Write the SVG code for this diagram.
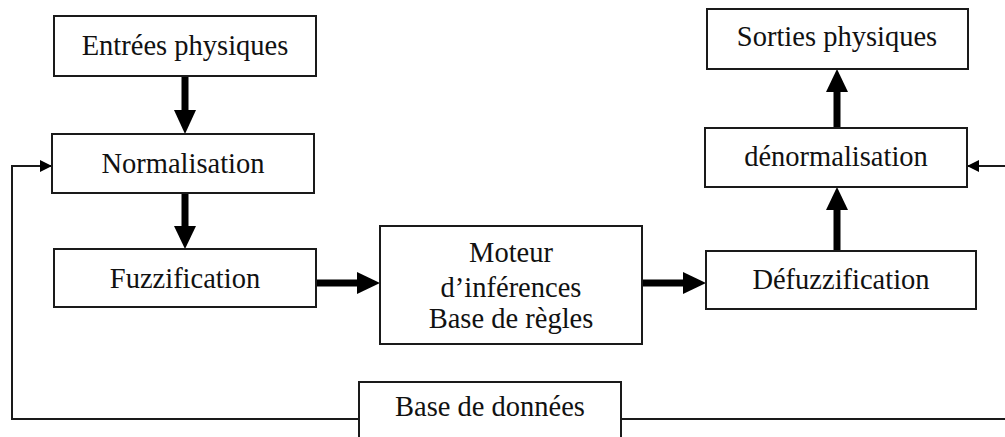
<svg xmlns="http://www.w3.org/2000/svg" width="1005" height="437" viewBox="0 0 1005 437">
  <style>
    .box { fill: #fff; stroke: #1a1a1a; stroke-width: 2; }
    .lbl { font-family: "Liberation Serif", "Times New Roman", serif; font-size: 28.5px; fill: #111; text-anchor: middle; }
    .thick { stroke: #000; stroke-width: 7; fill: none; }
    .thin { stroke: #1a1a1a; stroke-width: 2; fill: none; }
    .head { fill: #000; }
  </style>
  <defs>
    <!-- small filled arrowhead for the feedback lines -->
    <marker id="tip" viewBox="0 0 12 12" refX="12" refY="6" markerWidth="12" markerHeight="12" markerUnits="userSpaceOnUse" orient="auto">
      <path d="M0,0 L12,6 L0,12 Z" fill="#000"/>
    </marker>
  </defs>

  <!-- connectors -->
  <g id="connectors">
    <!-- Entrées -> Normalisation -->
    <line class="thick" x1="185" y1="76" x2="185" y2="112"/>
    <polygon class="head" points="174,110 196,110 185,134"/>
    <!-- Normalisation -> Fuzzification -->
    <line class="thick" x1="185" y1="193" x2="185" y2="228"/>
    <polygon class="head" points="174,226 196,226 185,249"/>
    <!-- Fuzzification -> Moteur -->
    <line class="thick" x1="316" y1="283" x2="359" y2="283"/>
    <polygon class="head" points="357,272 357,294 380,283"/>
    <!-- Moteur -> Défuzzification -->
    <line class="thick" x1="642" y1="283" x2="685" y2="283"/>
    <polygon class="head" points="683,272 683,294 706,283"/>
    <!-- Défuzzification -> dénormalisation -->
    <line class="thick" x1="837" y1="251" x2="837" y2="208"/>
    <polygon class="head" points="826,210 848,210 837,187"/>
    <!-- dénormalisation -> Sorties -->
    <line class="thick" x1="837" y1="128" x2="837" y2="90"/>
    <polygon class="head" points="826,92 848,92 837,69"/>
    <!-- Base de données feedback to Normalisation -->
    <polyline class="thin" points="359,419 12,419 12,166 52,166" marker-end="url(#tip)"/>
    <!-- Base de données feedback to dénormalisation -->
    <polyline class="thin" points="621,419 1010,419"/>
    <line class="thin" x1="1010" y1="166" x2="967" y2="166" marker-end="url(#tip)"/>
  </g>

  <g id="entrees">
    <rect class="box" x="54" y="16" width="262" height="60"/>
    <text class="lbl" x="185" y="55">Entrées physiques</text>
  </g>
  <g id="normalisation">
    <rect class="box" x="52" y="134" width="262" height="59"/>
    <text class="lbl" x="183" y="173">Normalisation</text>
  </g>
  <g id="fuzzification">
    <rect class="box" x="54" y="249" width="262" height="58"/>
    <text class="lbl" x="185" y="288">Fuzzification</text>
  </g>
  <g id="moteur">
    <rect class="box" x="380" y="226" width="262" height="118"/>
    <text class="lbl" x="511" y="262">Moteur</text>
    <text class="lbl" x="511" y="297">d’inférences</text>
    <text class="lbl" x="511" y="328">Base de règles</text>
  </g>
  <g id="defuzzification">
    <rect class="box" x="706" y="251" width="270" height="58"/>
    <text class="lbl" x="841" y="289">Défuzzification</text>
  </g>
  <g id="denormalisation">
    <rect class="box" x="705" y="128" width="262" height="59"/>
    <text class="lbl" x="836" y="166">dénormalisation</text>
  </g>
  <g id="sorties">
    <rect class="box" x="707" y="9" width="261" height="60"/>
    <text class="lbl" x="837" y="46">Sorties physiques</text>
  </g>
  <g id="base-donnees">
    <rect class="box" x="359" y="382" width="262" height="70"/>
    <text class="lbl" x="490" y="416">Base de données</text>
  </g>
</svg>
